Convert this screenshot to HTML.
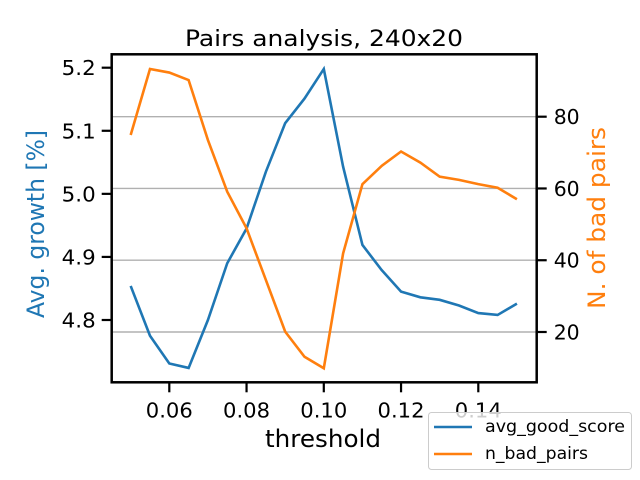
<!DOCTYPE html>
<html><head><meta charset="utf-8"><style>
html,body{margin:0;padding:0;background:#fff}
svg{display:block;font-family:"DejaVu Sans","Liberation Sans",sans-serif}
</style></head><body>
<svg id="chart" width="640" height="480" viewBox="0 0 640 480" xmlns="http://www.w3.org/2000/svg">
<rect width="640" height="480" fill="#fff"/>
<g id="grid"></g>
<g id="series"></g>
<g id="axes"></g>
<text x="324" y="46" text-anchor="middle" style="font-size:22px" textLength="278" lengthAdjust="spacingAndGlyphs" fill="#000">Pairs analysis, 240x20</text>
<text x="323" y="447" text-anchor="middle" style="font-size:24px" textLength="116" lengthAdjust="spacingAndGlyphs" fill="#000">threshold</text>
<text transform="translate(44,224) rotate(-90)" text-anchor="middle" style="font-size:24px" textLength="188" lengthAdjust="spacingAndGlyphs" fill="#1f77b4">Avg. growth [%]</text>
<text transform="translate(605,218) rotate(-90)" text-anchor="middle" style="font-size:24px" textLength="182" lengthAdjust="spacingAndGlyphs" fill="#ff7f0e">N. of bad pairs</text>
<g>
<rect x="428.5" y="412.5" width="203" height="57" rx="3" fill="#fff" fill-opacity="0.8" stroke="#ccc"/>
<line x1="434" y1="427" x2="472" y2="427" stroke="#1f77b4" stroke-width="2.6"/>
<text x="485" y="432" style="font-size:17px" textLength="140" lengthAdjust="spacingAndGlyphs">avg_good_score</text>
<line x1="434" y1="454" x2="472" y2="454" stroke="#ff7f0e" stroke-width="2.6"/>
<text x="485" y="459" style="font-size:17px" textLength="103" lengthAdjust="spacingAndGlyphs">n_bad_pairs</text>
</g>
</svg>
<script>
const thresholds=[0.05,0.055,0.06,0.065,0.07,0.075,0.08,0.085,0.09,0.095,0.1,0.105,0.11,0.115,0.12,0.125,0.13,0.135,0.14,0.145,0.15];
const avgGoodScore=[4.854,4.775,4.731,4.724,4.800,4.890,4.945,5.035,5.112,5.151,5.198,5.043,4.919,4.879,4.845,4.836,4.832,4.823,4.811,4.808,4.826];
const nBadPairs=[74.9,93.3,92.3,90.2,73.5,59.1,48.9,34.5,20.1,13.1,9.9,41.9,61.2,66.3,70.3,67.2,63.3,62.4,61.2,60.2,57.0];
const xTicks=[0.06,0.08,0.10,0.12,0.14];
const xTickLabels=["0.06","0.08","0.10","0.12","0.14"];
const leftTicks=[4.8,4.9,5.0,5.1,5.2];
const leftTickLabels=["4.8","4.9","5.0","5.1","5.2"];
const rightTicks=[20,40,60,80];
const rightTickLabels=["20","40","60","80"];

const L=111.7,R=536.7,T=54.3,B=382.3;
const xS=v=>169.3+(v-0.06)*(77.25/0.02);
const yL=v=>67.7+(5.2-v)*(252.3/0.4);
const yR=v=>116.7+(80-v)*(215.3/60);
const NS="http://www.w3.org/2000/svg";
function mk(tag,attrs,parent){const e=document.createElementNS(NS,tag);for(const k in attrs)e.setAttribute(k,attrs[k]);parent.appendChild(e);return e;}
const grid=document.getElementById('grid'),series=document.getElementById('series'),axes=document.getElementById('axes');
rightTicks.forEach(v=>{const g=mk('line',{x1:L,x2:R,y1:yR(v),y2:yR(v),stroke:'#b0b0b0','stroke-width':1.4},grid);

});
const p1=mk('polyline',{points:thresholds.map((t,i)=>xS(t)+','+yL(avgGoodScore[i])).join(' '),fill:'none',stroke:'#1f77b4','stroke-width':2.6},series);


const p2=mk('polyline',{points:thresholds.map((t,i)=>xS(t)+','+yR(nBadPairs[i])).join(' '),fill:'none',stroke:'#ff7f0e','stroke-width':2.6},series);


const fr=mk('rect',{x:L,y:T,width:R-L,height:B-T,fill:'none',stroke:'#000','stroke-width':2.5},axes);


xTicks.forEach((v,i)=>{const x=xS(v);
const t=mk('line',{x1:x,x2:x,y1:B,y2:B+10,stroke:'#000','stroke-width':2.2},axes);


const l=mk('text',{x:x,y:B+35,'text-anchor':'middle',style:'font-size:20.5px',textLength:47,lengthAdjust:'spacingAndGlyphs'},axes);l.textContent=xTickLabels[i];

});
leftTicks.forEach((v,i)=>{const y=yL(v);
const t=mk('line',{x1:L-10,x2:L,y1:y,y2:y,stroke:'#000','stroke-width':2.2},axes);


const l=mk('text',{x:L-16,y:y+7.5,'text-anchor':'end',style:'font-size:20.5px',textLength:34,lengthAdjust:'spacingAndGlyphs'},axes);l.textContent=leftTickLabels[i];

});
rightTicks.forEach((v,i)=>{const y=yR(v);
const t=mk('line',{x1:R,x2:R+10,y1:y,y2:y,stroke:'#000','stroke-width':2.2},axes);


const l=mk('text',{x:R+17,y:y+7.5,'text-anchor':'start',style:'font-size:20.5px',textLength:26,lengthAdjust:'spacingAndGlyphs'},axes);l.textContent=rightTickLabels[i];

});
</script>
</body></html>
